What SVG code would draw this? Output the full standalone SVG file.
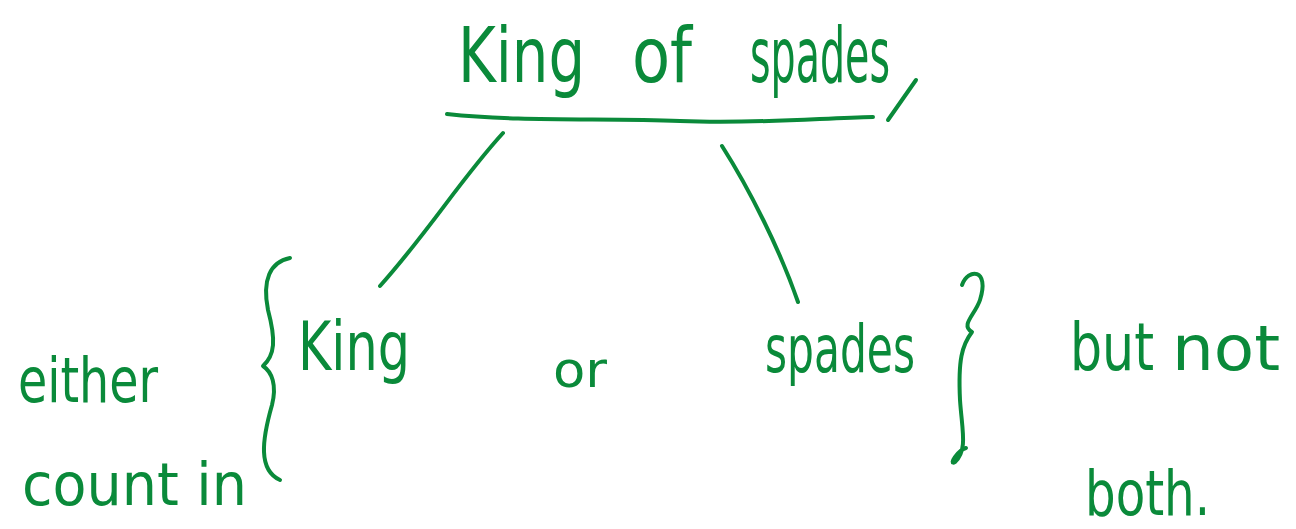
<svg xmlns="http://www.w3.org/2000/svg" width="1296" height="529" viewBox="0 0 1296 529">
  <style>
    .ink { fill: #0a8a3a; font-family: "DejaVu Sans Condensed", "DejaVu Sans", sans-serif; }
    .pen { fill: none; stroke: #0a8a3a; stroke-width: 4; stroke-linecap: round; stroke-linejoin: round; }
  </style>
  <rect width="1296" height="529" fill="#ffffff"/>

  <!-- heading with underline -->
  <g id="title">
    <text class="ink" x="458" y="82" font-size="76" textLength="127" lengthAdjust="spacingAndGlyphs">King</text>
    <text class="ink" x="632" y="82" font-size="76" textLength="60" lengthAdjust="spacingAndGlyphs">of</text>
    <text class="ink" x="750" y="82" font-size="76" textLength="140" lengthAdjust="spacingAndGlyphs">spades</text>
    <path class="pen" d="M888 120 L916 80"/>
    <path class="pen" d="M447 114 C520 122 600 118 680 121 C760 124 820 118 873 117"/>
  </g>

  <!-- branches from the heading -->
  <g id="connectors">
    <path class="pen" d="M503 133 C460 180 430 230 380 286"/>
    <path class="pen" d="M722 146 C750 190 780 250 798 302"/>
  </g>

  <!-- left grouping -->
  <g id="either-count-in">
    <text class="ink" x="18" y="402" font-size="62" textLength="140" lengthAdjust="spacingAndGlyphs">either</text>
    <text class="ink" x="22" y="505" font-size="58" textLength="225" lengthAdjust="spacingAndGlyphs">count in</text>
    <path class="pen" d="M290 258 C270 262 262 280 268 310 C276 340 275 355 263 366 C272 372 277 385 272 405 C262 440 258 470 280 480"/>
  </g>

  <g id="king">
    <text class="ink" x="298" y="370" font-size="68" textLength="112" lengthAdjust="spacingAndGlyphs">King</text>
  </g>

  <g id="or">
    <text class="ink" x="553" y="387" font-size="50" textLength="54" lengthAdjust="spacingAndGlyphs">or</text>
  </g>

  <g id="spades">
    <text class="ink" x="765" y="372" font-size="66" textLength="150" lengthAdjust="spacingAndGlyphs">spades</text>
  </g>

  <!-- right grouping -->
  <g id="but-not-both">
    <path class="pen" d="M962 285 C968 268 990 268 980 300 C975 315 960 325 972 332 C962 345 958 360 960 400 C962 430 968 450 955 462 C948 466 958 450 966 448"/>
    <text class="ink" x="1070" y="370" font-size="66" textLength="84" lengthAdjust="spacingAndGlyphs">but</text>
    <text class="ink" x="1172" y="370" font-size="62" textLength="108" lengthAdjust="spacingAndGlyphs">not</text>
    <text class="ink" x="1085" y="515" font-size="62" textLength="125" lengthAdjust="spacingAndGlyphs">both.</text>
  </g>
</svg>
